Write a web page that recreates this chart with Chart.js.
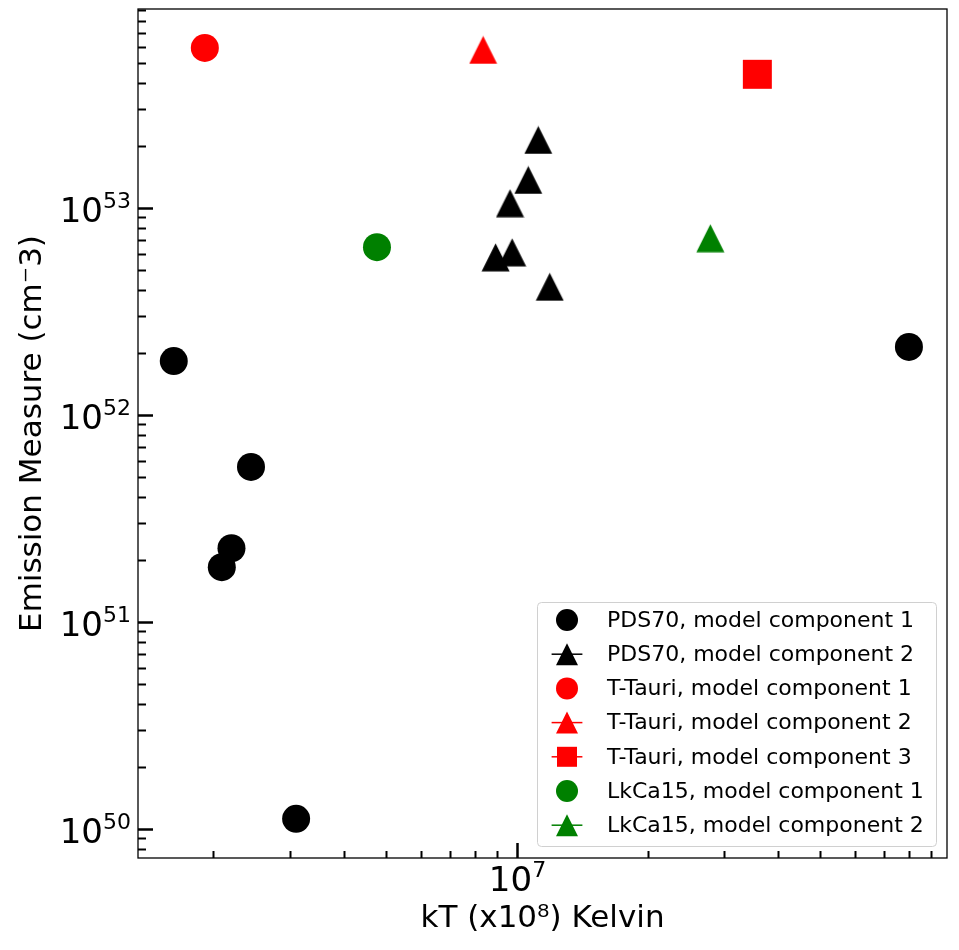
<!DOCTYPE html>
<html>
<head>
<meta charset="utf-8">
<script src="https://cdn.jsdelivr.net/npm/chart.js@4.4.0/dist/chart.umd.min.js"></script>
<style>
  html, body { margin: 0; padding: 0; background: #fff; }
  #wrap { width: 959px; height: 950px; }
</style>
</head>
<body>
<div id="wrap"><canvas id="emChart" width="959" height="950"></canvas></div>
<script>
// temperatures (K) and emission measures (cm^-3)
const pds70C1Temp = [1.62e6, 2.44e6, 2.20e6, 2.09e6, 3.10e6, 8.0e7];
const pds70C1EM   = [1.82e52, 5.61e51, 2.27e51, 1.84e51, 1.12e50, 2.13e52];
const pds70C2Temp = [1.12e7, 1.062e7, 9.64e6, 8.93e6, 9.75e6, 1.19e7];
const pds70C2EM   = [2.13e53, 1.365e53, 1.054e53, 5.77e52, 6.10e52, 4.16e52];
const tTauriC1Temp = [1.91e6];
const tTauriC1EM   = [5.93e53];
const tTauriC2Temp = [8.36e6];
const tTauriC2EM   = [5.80e53];
const tTauriC3Temp = [3.58e7];
const tTauriC3EM   = [4.42e53];
const lkca15C1Temp = [4.76e6];
const lkca15C1EM   = [6.46e52];
const lkca15C2Temp = [2.79e7];
const lkca15C2EM   = [7.14e52];

const seriesLabels = [
  'PDS70, model component 1',
  'PDS70, model component 2',
  'T-Tauri, model component 1',
  'T-Tauri, model component 2',
  'T-Tauri, model component 3',
  'LkCa15, model component 1',
  'LkCa15, model component 2'
];

// major tick labels: base and exponent (drawn like 10^n)
const xMajorTicks = [1e7];
const xTickExps = ['7'];
const yMajorTicks = [1e50, 1e51, 1e52, 1e53];
const yTickExps = ['50', '51', '52', '53'];

const FONT = "'DejaVu Sans', sans-serif";

function pairs(xs, ys) {
  return xs.map((v, i) => ({ x: v, y: ys[i] }));
}

// matplotlib style '^' marker: as wide as it is tall
function triangleImg(color, size) {
  const c = document.createElement('canvas');
  c.width = size; c.height = size;
  const g = c.getContext('2d');
  g.fillStyle = color;
  g.beginPath();
  g.moveTo(size / 2, 0.5);
  g.lineTo(size - 0.5, size - 0.5);
  g.lineTo(0.5, size - 0.5);
  g.closePath();
  g.fill();
  return c;
}

function isMajor(v, list) {
  return list.findIndex(m => Math.abs(v / m - 1) < 1e-6);
}

function logTicks(min, max) {
  const out = [];
  for (let e = Math.floor(Math.log10(min)); e <= Math.ceil(Math.log10(max)); e++) {
    for (let m = 1; m < 10; m++) {
      const v = m * Math.pow(10, e);
      if (v >= min && v <= max) out.push({ value: v });
    }
  }
  return out;
}

const seriesShapes = ['circle', 'triangle', 'circle', 'triangle', 'square', 'circle', 'triangle'];
const seriesColors = ['#000000', '#000000', '#ff0000', '#ff0000', '#ff0000', '#008000', '#008000'];

function makeDataset(i, data) {
  const shape = seriesShapes[i];
  const color = seriesColors[i];
  const ds = {
    label: seriesLabels[i],
    data: data,
    backgroundColor: color,
    borderColor: color,
    borderWidth: 0,
    pointBorderWidth: 0
  };
  if (shape === 'circle') {
    ds.pointStyle = 'circle';
    ds.pointRadius = 14;
  } else if (shape === 'square') {
    ds.pointStyle = 'rect';
    ds.pointRadius = 20.5;
  } else {
    ds.pointStyle = triangleImg(color, 29);
    ds.pointRadius = 14;
  }
  return ds;
}

function drawPow10(ctx, exp, x, baseline, align) {
  ctx.font = '34px ' + FONT;
  const wb = ctx.measureText('10').width;
  ctx.font = '22px ' + FONT;
  const we = ctx.measureText(exp).width;
  const total = wb + we;
  const start = align === 'right' ? x - total : x - total / 2;
  ctx.textAlign = 'left';
  ctx.textBaseline = 'alphabetic';
  ctx.font = '34px ' + FONT;
  ctx.fillText('10', start, baseline);
  ctx.font = '22px ' + FONT;
  ctx.fillText(exp, start + wb, baseline - 14);
}

// ticks pointing inward, frame and 10^n tick labels
const frameTicks = {
  id: 'frameTicks',
  beforeDatasetsDraw(chart) {
    const { ctx, chartArea: a, scales: { x, y } } = chart;
    ctx.save();
    ctx.strokeStyle = '#000';
    ctx.fillStyle = '#000';
    x.ticks.forEach(t => {
      const px = Math.round(x.getPixelForValue(t.value)) + 0.5;
      const k = isMajor(t.value, xMajorTicks);
      ctx.lineWidth = k >= 0 ? 2.5 : 2;
      ctx.beginPath();
      ctx.moveTo(px, a.bottom);
      ctx.lineTo(px, a.bottom - (k >= 0 ? 15 : 7));
      ctx.stroke();
      if (k >= 0) drawPow10(ctx, xTickExps[k], px, a.bottom + 33, 'center');
    });
    y.ticks.forEach(t => {
      const py = Math.round(y.getPixelForValue(t.value)) + 0.5;
      const k = isMajor(t.value, yMajorTicks);
      ctx.lineWidth = k >= 0 ? 2.5 : 2;
      ctx.beginPath();
      ctx.moveTo(a.left, py);
      ctx.lineTo(a.left + (k >= 0 ? 15 : 8), py);
      ctx.stroke();
      if (k >= 0) drawPow10(ctx, yTickExps[k], a.left - 7, py + 13, 'right');
    });
    ctx.lineWidth = 1.3;
    ctx.strokeRect(a.left, a.top, a.right - a.left, a.bottom - a.top);
    ctx.restore();
  }
};

function drawMarker(ctx, shape, color, x, y, s) {
  ctx.fillStyle = color;
  ctx.strokeStyle = color;
  if (shape !== 'circle') {
    ctx.lineWidth = 1.5;
    ctx.beginPath();
    ctx.moveTo(x - s * 0.7, y);
    ctx.lineTo(x + s * 0.7, y);
    ctx.stroke();
  }
  ctx.beginPath();
  if (shape === 'circle') {
    ctx.arc(x, y, s / 2, 0, Math.PI * 2);
  } else if (shape === 'square') {
    ctx.rect(x - s / 2 + 1, y - s / 2 + 1, s - 2, s - 2);
  } else {
    ctx.moveTo(x, y - s / 2);
    ctx.lineTo(x + s / 2, y + s / 2);
    ctx.lineTo(x - s / 2, y + s / 2);
    ctx.closePath();
  }
  ctx.fill();
}

// legend box in lower right corner of the axes
const boxLegend = {
  id: 'boxLegend',
  afterDraw(chart) {
    const { ctx, chartArea: a } = chart;
    const right = a.right - 11, bottom = a.bottom - 12;
    const w = 399, h = 244, rowH = 34.2;
    const left = right - w, top = bottom - h;
    ctx.save();
    ctx.fillStyle = 'rgba(255,255,255,0.8)';
    ctx.strokeStyle = '#d0d0d0';
    ctx.lineWidth = 1;
    ctx.beginPath();
    ctx.roundRect(left + 0.5, top + 0.5, w, h, 4);
    ctx.fill();
    ctx.stroke();
    ctx.font = '22px ' + FONT;
    ctx.textBaseline = 'middle';
    ctx.textAlign = 'left';
    chart.data.datasets.forEach((ds, i) => {
      const cy = top + 18 + i * rowH;
      drawMarker(ctx, seriesShapes[i], seriesColors[i], left + 30, cy, 22);
      ctx.fillStyle = '#000';
      ctx.fillText(ds.label, left + 70, cy + 1);
    });
    ctx.restore();
  }
};

new Chart(document.getElementById('emChart'), {
  type: 'scatter',
  data: {
    datasets: [
      makeDataset(0, pairs(pds70C1Temp, pds70C1EM)),
      makeDataset(1, pairs(pds70C2Temp, pds70C2EM)),
      makeDataset(2, pairs(tTauriC1Temp, tTauriC1EM)),
      makeDataset(3, pairs(tTauriC2Temp, tTauriC2EM)),
      makeDataset(4, pairs(tTauriC3Temp, tTauriC3EM)),
      makeDataset(5, pairs(lkca15C1Temp, lkca15C1EM)),
      makeDataset(6, pairs(lkca15C2Temp, lkca15C2EM))
    ]
  },
  options: {
    responsive: false,
    animation: false,
    devicePixelRatio: 1,
    layout: { autoPadding: false, padding: { top: 9, right: 12, left: 0, bottom: 0 } },
    plugins: {
      legend: { display: false },
      tooltip: { enabled: false }
    },
    scales: {
      x: {
        type: 'logarithmic',
        min: 1.34e6,
        max: 9.79e7,
        grid: { display: false, drawTicks: false },
        border: { display: false },
        afterBuildTicks: s => { s.ticks = logTicks(s.min, s.max); },
        afterFit: s => { s.height = 92; s.paddingLeft = 0; s.paddingRight = 0; },
        ticks: { display: false, autoSkip: false },
        title: {
          display: true,
          text: 'kT (x10\u2078) Kelvin',
          color: '#000',
          font: { family: FONT, size: 31 },
          padding: { top: 0, bottom: 12 }
        }
      },
      y: {
        type: 'logarithmic',
        min: 7.24e49,
        max: 9.14e53,
        grid: { display: false, drawTicks: false },
        border: { display: false },
        afterBuildTicks: s => { s.ticks = logTicks(s.min, s.max); },
        afterFit: s => { s.width = 138; s.paddingTop = 0; s.paddingBottom = 0; },
        ticks: { display: false, autoSkip: false },
        title: {
          display: true,
          text: 'Emission Measure (cm\u207b3)',
          color: '#000',
          font: { family: FONT, size: 31 },
          padding: { top: 14, bottom: 0 }
        }
      }
    }
  },
  plugins: [frameTicks, boxLegend]
});
</script>
</body>
</html>
